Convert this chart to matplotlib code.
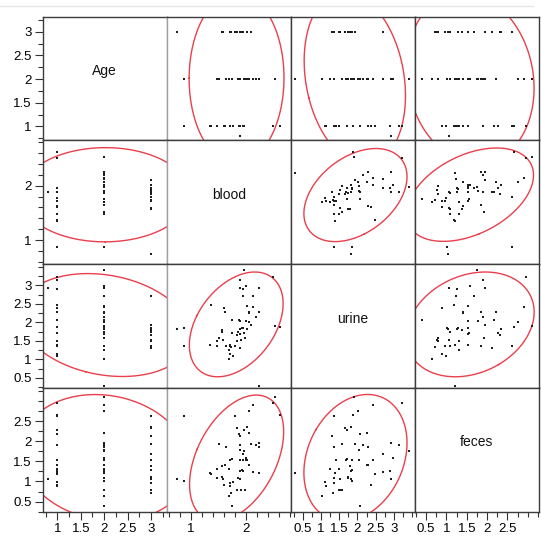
import numpy as np
import matplotlib
matplotlib.use('Agg')
import matplotlib.pyplot as plt
from matplotlib.lines import Line2D
from matplotlib.ticker import FixedLocator, MultipleLocator

NA = np.nan
variables = ['Age', 'blood', 'urine', 'feces']

age = [2, 1, 2, 2, 1, 1, 3, 3, 3, 1, 2, 1, 3, 2, 3, 2, 1, 2, 2, 2,
       2, 2, 3, 2, 2, 3, 2, 1, 2, 2, 2, 1, 3, 2, 1, 3, 1, 2, 2, 1,
       2, 1, NA, 3, 2, 3, 2, 3, 2, 1, 3, 1, 1, 3, 3, 2, 3, 2, 2]
blood = [2.53, 2.50, 2.14, 2.06, 2.62, 0.88, 1.80, 2.02, 1.84, 1.96,
         2.06, 1.88, 1.89, 2.25, 2.10, 1.51, 1.89, 2.19, 2.25, 1.64,
         1.97, 1.90, 1.95, 2.01, 1.75, 1.95, 2.00, 1.71, 1.89, 2.02,
         2.06, 1.62, 1.57, 1.70, 1.47, 1.93, 1.95, 1.89, 2.13, 1.35,
         2.24, 1.36, 1.89, 1.57, 1.47, 1.58, 1.86, 0.75, 0.88, 1.77,
         1.72, 1.71, 1.60, 1.84, 1.92, 1.99, 1.74, 1.70, 1.75]
urine = [1.90, 3.22, 2.42, 2.02, 1.88, 1.37, 1.37, 1.83, 1.65, 1.70,
         2.27, 2.06, 1.30, 2.93, 1.93, 1.57, 3.15, 2.15, 2.29, 1.37,
         3.42, 2.05, 2.70, 2.98, 1.71, 1.86, 2.04, 1.40, 1.68, 2.44,
         2.25, 2.29, 1.80, 1.25, 1.50, 1.85, 2.90, 1.82, 2.70, 1.38,
         NA, 2.47, 2.93, 1.74, 1.35, 1.53, 1.74, 1.81, 1.84, 1.10,
         1.37, 1.15, 2.38, 1.50, 1.53, 1.59, 1.33, 1.02, 2.06]
feces = [3.10, 2.95, 2.90, 2.75, 2.66, 2.62, 2.62, 2.35, 2.32, 2.27,
         2.21, 2.17, 2.13, 1.96, 1.94, 1.92, 1.91, 1.90, 1.85, 1.86,
         1.76, 1.77, 1.69, 1.57, 1.55, 1.54, 1.53, 1.54, 1.54, 1.53,
         1.41, 1.40, 1.38, 1.32, 1.32, 1.29, 1.27, 1.25, 1.23, 1.21,
         1.20, 1.19, 1.06, 1.10, 1.09, 1.06, 1.08, 1.05, 1.02, 0.98,
         0.96, 0.88, 0.90, 0.79, 0.78, 0.79, 0.71, 0.65, 0.40]

xlims = {'Age': (0.69, 3.33), 'blood': (0.558, 2.82), 'urine': (0.17, 3.57), 'feces': (0.22, 3.27)}
ylims = {'Age': (0.705, 3.316), 'blood': (0.556, 2.83), 'urine': (0.23, 3.57), 'feces': (0.25, 3.32)}
major_ticks = {'Age': [1, 1.5, 2, 2.5, 3], 'blood': [1, 2],
               'urine': [0.5, 1, 1.5, 2, 2.5, 3], 'feces': [0.5, 1, 1.5, 2, 2.5]}
minor_step = {'Age': 0.25, 'blood': 0.2, 'urine': 0.25, 'feces': 0.25}
missing_pos = {'Age': 0.80, 'urine': 0.28}

data = {'Age': np.array(age, float), 'blood': np.array(blood, float),
        'urine': np.array(urine, float), 'feces': np.array(feces, float)}

W, H = 541, 552
fig = plt.figure(figsize=(W / 100, H / 100), dpi=100)
fig.patch.set_facecolor('white')

left, right, top, bottom = 42.7, 538.7, 16.7, 511.7
cw = (right - left) / 4
ch = (bottom - top) / 4

fig.add_artist(Line2D([0, 0.985], [1 - 5.7 / H] * 2, color='#e6e6e6', lw=1.0))

FONT = 'Liberation Sans'
ELL = '#ea3f4c'
PT = '#1e1e1e'


def fmt(v):
    return ('%g' % v)


def ellipse(x, y, level=5.991):
    m = ~np.isnan(x) & ~np.isnan(y)
    xx, yy = x[m], y[m]
    cov = np.cov(xx, yy)
    vals, vecs = np.linalg.eigh(cov)
    t = np.linspace(0, 2 * np.pi, 500)
    circ = np.stack([np.cos(t), np.sin(t)])
    pts = vecs @ (np.sqrt(vals * level)[:, None] * circ)
    return xx.mean() + pts[0], yy.mean() + pts[1]


def disp(v, name):
    v = v.copy()
    if name in missing_pos:
        v[np.isnan(v)] = missing_pos[name]
    return v


for r, yv in enumerate(variables):
    for c, xv in enumerate(variables):
        x0 = (left + c * cw) / W
        y0 = 1 - (top + (r + 1) * ch) / H
        ax = fig.add_axes([x0, y0, cw / W, ch / H])
        ax.set_xlim(*xlims[xv])
        ax.set_ylim(*ylims[yv])
        for s in ax.spines.values():
            s.set_color('#3c3c3c')
            s.set_linewidth(1.0)
        if c == 0:
            ax.spines['right'].set_color('#a0a0a0')
        if c == 1:
            ax.spines['left'].set_color('#a0a0a0')
        if r == c:
            ax.text(0.5, 0.56, yv, transform=ax.transAxes, ha='center', va='center',
                    fontsize=10, family=FONT, color='#111')
        else:
            ex, ey = ellipse(data[xv], data[yv])
            ax.plot(ex, ey, color=ELL, lw=1.0, clip_on=True)
            ax.plot(disp(data[xv], xv), disp(data[yv], yv), ls='none', marker='s',
                    ms=1.8, mew=0, color=PT, clip_on=True)
        ax.tick_params(which='both', direction='out', color='#333', width=0.8,
                       labelsize=9.5, pad=2)
        ax.tick_params(which='major', length=6)
        ax.tick_params(which='minor', length=3.5)
        if c == 0:
            ax.set_yticks(major_ticks[yv], [fmt(v) for v in major_ticks[yv]], family=FONT)
            ax.yaxis.set_minor_locator(MultipleLocator(minor_step[yv]))
        else:
            ax.set_yticks([])
            ax.yaxis.set_minor_locator(FixedLocator([]))
        if r == 3:
            ax.set_xticks(major_ticks[xv], [fmt(v) for v in major_ticks[xv]], family=FONT)
            ax.xaxis.set_minor_locator(MultipleLocator(minor_step[xv]))
        else:
            ax.set_xticks([])
            ax.xaxis.set_minor_locator(FixedLocator([]))

fig.savefig('out.png', dpi=100)
